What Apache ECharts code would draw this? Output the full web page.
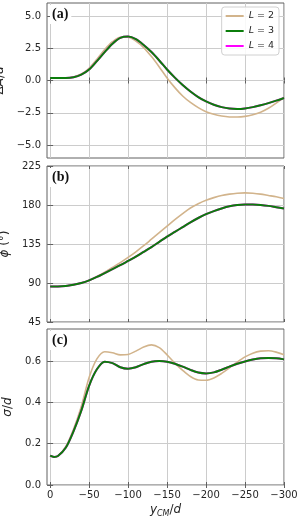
<!DOCTYPE html>
<html><head><meta charset="utf-8">
<script src="https://cdn.jsdelivr.net/npm/echarts@6/dist/echarts.min.js"></script>
<style>html,body{margin:0;padding:0;background:#fff}#c{width:299px;height:519px}</style>
</head><body><div id="c"></div>
<script>
// shared x positions (y_CM/d)
const xs = [0,-5,-10,-20,-30,-40,-50,-60,-70,-80,-90,-100,-110,-120,-130,-140,-150,-160,-170,-180,-190,-200,-210,-220,-230,-240,-250,-260,-270,-280,-290,-300];
const xTicks = [0,-50,-100,-150,-200,-250,-300];
const names = ['L = 2','L = 3','L = 4'];
const colors = ['#d2b48c','#0b7d0b','#ff00ff'];

// panel (a): ΔA/d
const aL2 = [0.2,0.2,0.2,0.2,0.27,0.5,0.95,1.65,2.4,3.0,3.35,3.35,3.05,2.55,1.85,1.05,0.2,-0.55,-1.2,-1.7,-2.1,-2.42,-2.62,-2.75,-2.82,-2.83,-2.78,-2.65,-2.45,-2.15,-1.75,-1.3];
const aL3 = [0.2,0.2,0.2,0.2,0.25,0.45,0.85,1.5,2.2,2.85,3.3,3.4,3.2,2.75,2.2,1.55,0.85,0.22,-0.35,-0.85,-1.28,-1.62,-1.88,-2.06,-2.17,-2.2,-2.16,-2.06,-1.92,-1.75,-1.56,-1.35];
const aL4 = [0.2,0.2,0.2,0.2,0.25,0.45,0.85,1.5,2.2,2.85,3.3,3.4,3.2,2.75,2.2,1.55,0.85,0.22,-0.35,-0.85,-1.28,-1.62,-1.88,-2.06,-2.17,-2.2,-2.16,-2.06,-1.92,-1.75,-1.56,-1.35];
const aTicks = [-5,-2.5,0,2.5,5];

// panel (b): phi (deg)
const bL2 = [86,86,86,86.5,88,90,93,97.5,102.5,108,113.5,119.5,126,133,140.5,148,155.5,163,170,176.5,181.5,185.5,188.5,191,192.5,193.5,194,193.5,192.5,191,189.5,187.5];
const bL3 = [86,86,86,86.5,88,90,93,97,101.5,106,110.5,115.5,120.5,126,131.5,137.5,143.5,149,154.5,160,165,169.5,173,176,178.5,180,180.5,180.5,180,179,177.5,176];
const bL4 = [86,86,86,86.5,88,90,93,97,101.5,106,110.5,115.5,120.5,126,131.5,137.5,143.5,149,154.5,160,165,169.5,173,176,178.5,180,180.5,180.5,180,179,177.5,176];
const bTicks = [45,90,135,180,225];

// panel (c): sigma/d
const cL2 = [0.142,0.136,0.14,0.185,0.27,0.38,0.52,0.61,0.645,0.64,0.63,0.632,0.648,0.668,0.678,0.665,0.63,0.59,0.555,0.525,0.508,0.507,0.518,0.54,0.567,0.595,0.62,0.638,0.648,0.65,0.643,0.63];
const cL3 = [0.142,0.136,0.14,0.18,0.26,0.36,0.48,0.56,0.597,0.59,0.57,0.563,0.57,0.585,0.597,0.6,0.597,0.587,0.573,0.557,0.544,0.54,0.545,0.558,0.573,0.587,0.598,0.607,0.613,0.615,0.613,0.608];
const cL4 = [0.142,0.136,0.14,0.18,0.26,0.36,0.48,0.56,0.597,0.59,0.57,0.563,0.57,0.585,0.597,0.6,0.597,0.587,0.573,0.557,0.544,0.54,0.545,0.558,0.573,0.587,0.598,0.607,0.613,0.615,0.613,0.608];
const cTicks = [0,0.2,0.4,0.6];

const FONT = 'DejaVu Sans';
const TXT = '#262626';
const minus = s => String(s).replace(/-/g,'\u2212');
const pairs = ys => xs.map((x,i)=>[x,ys[i]]);

const grids = [
  {left:47, top:3, width:237, height:155},
  {left:47, top:166, width:237, height:156},
  {left:47, top:329, width:237, height:156}
].map(g=>Object.assign({show:true, borderColor:'#606060', borderWidth:1, backgroundColor:'transparent', containLabel:false, outerBoundsMode:'none'}, g));

const tickStyle = vals => ({show:true, inside:true, length:3, lineStyle:{color:'#606060'}, customValues:vals});

function xAxis(i, showLabel){
  const ax = {
    type:'value', gridIndex:i, min:-300, max:4, inverse:true, position:'bottom',
    axisLine:{show:false},
    axisTick:tickStyle(xTicks),
    splitLine:{show:true, lineStyle:{color:'#cccccc', width:1}},
    axisLabel:{show:showLabel, customValues:xTicks, fontFamily:FONT, fontSize:10, color:TXT, margin:5,
      formatter:v=>minus(v)}
  };
  if (showLabel){
    ax.name = '{i|y}{s|CM}{n|/}{i|d}';
    ax.nameLocation='middle'; ax.nameGap=17;
    ax.nameTextStyle = {rich:{
      i:{fontFamily:FONT, fontStyle:'italic', fontSize:12, color:TXT, lineHeight:16},
      n:{fontFamily:FONT, fontSize:12, color:TXT, lineHeight:16},
      s:{fontFamily:FONT, fontStyle:'italic', fontSize:8, color:TXT, verticalAlign:'bottom', lineHeight:16, padding:[6,0,0,0]}
    }};
  }
  return ax;
}
// mirrored top axis: ticks only
const xTop = i => ({type:'value', gridIndex:i, min:-300, max:4, inverse:true, position:'top',
  axisLine:{show:false}, axisTick:tickStyle(xTicks), splitLine:{show:false}, axisLabel:{show:false}});

const richY = {
  i:{fontFamily:FONT, fontStyle:'italic', fontSize:12, color:TXT},
  n:{fontFamily:FONT, fontSize:12, color:TXT}
};
function yAxis(i, min, max, vals, name, dec){
  return {
    type:'value', gridIndex:i, min:min, max:max, position:'left',
    axisLine:{show:false},
    axisTick:tickStyle(vals),
    splitLine:{show:true, lineStyle:{color:'#cccccc', width:1}},
    axisLabel:{fontFamily:FONT, fontSize:10, color:TXT, margin:6, customValues:vals,
      formatter:v=>minus(dec ? v.toFixed(1) : v)},
    name:name, nameLocation:'middle', nameGap:28, nameTextStyle:{rich:richY}
  };
}
const yRight = (i, min, max, vals) => ({type:'value', gridIndex:i, min:min, max:max, position:'right',
  axisLine:{show:false}, axisTick:tickStyle(vals), splitLine:{show:false}, axisLabel:{show:false}});

const yAxes = [
  yAxis(0, -6, 6, aTicks, '{n|Δ}{i|A}{n|/}{i|d}', true),
  yAxis(1, 45, 225, bTicks, '{i|ϕ}{n| (°)}', false),
  yAxis(2, 0, 0.755, cTicks, '{i|σ}{n|/}{i|d}', true),
  yRight(0, -6, 6, aTicks),
  yRight(1, 45, 225, bTicks),
  yRight(2, 0, 0.755, cTicks)
];

const panelData = [[aL2,aL3,aL4],[bL2,bL3,bL4],[cL2,cL3,cL4]];
const series = [];
panelData.forEach((arrs,p)=>{
  // draw order: L=2, L=4, L=3 on top
  [[0,1.6,3],[2,2,4],[1,2,5]].forEach(([k,w,z])=>{
    series.push({
      name:names[k], type:'line', xAxisIndex:p, yAxisIndex:p,
      data:pairs(arrs[k]), smooth:0.3, showSymbol:false, symbol:'none',
      lineStyle:{color:colors[k], width:w}, itemStyle:{color:colors[k]},
      z:z, animation:false
    });
  });
});

const panelLabel = (txt, top) => ({
  type:'text', left:50, top:top, z:100,
  style:{text:txt, fontFamily:'Liberation Serif', fontWeight:'bold', fontSize:14, fill:'#111',
    backgroundColor:'#fff', padding:[2,3,3,2]}
});

const chart = echarts.init(document.getElementById('c'), null, {renderer:'canvas'});
chart.setOption({
  animation:false,
  backgroundColor:'#fff',
  grid:grids,
  xAxis:[xAxis(0,false), xAxis(1,false), xAxis(2,true), xTop(0), xTop(1), xTop(2)],
  yAxis:yAxes,
  series:series,
  legend:{
    data:names.map(n=>({name:n, icon:'rect'})),
    orient:'vertical', right:20, top:7, itemWidth:18, itemHeight:2, itemGap:5,
    backgroundColor:'rgba(255,255,255,0.85)', borderColor:'#d0d0d0', borderWidth:1, borderRadius:3,
    padding:[4,5,4,4],
    formatter:n=>'{i|L}{n|'+n.slice(1)+'}',
    textStyle:{rich:{
      i:{fontFamily:FONT, fontStyle:'italic', fontSize:9.5, color:TXT},
      n:{fontFamily:FONT, fontSize:9.5, color:TXT}
    }}
  },
  graphic:[panelLabel('(a)',5), panelLabel('(b)',168), panelLabel('(c)',331)]
});
</script></body></html>
